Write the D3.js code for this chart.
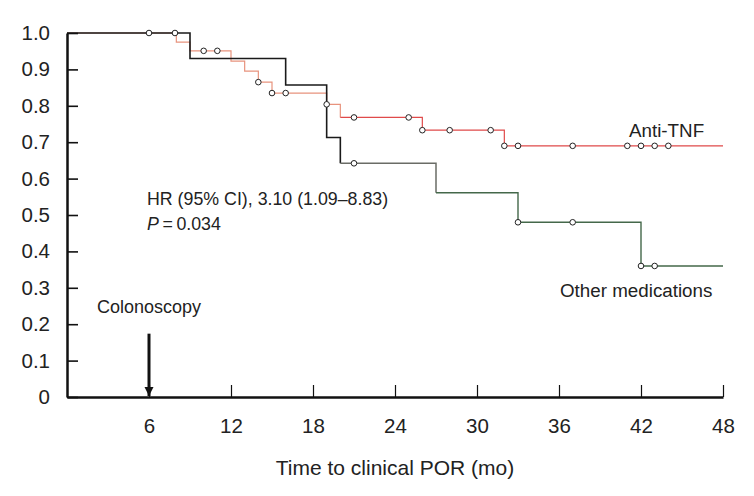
<!DOCTYPE html>
<html lang="en">
<head>
    <meta charset="UTF-8">
    <title>Time to clinical POR</title>
    <script src="https://cdn.jsdelivr.net/npm/d3@7"></script>
    <style>
        body { margin: 0; background: #fff; }
        svg text { font-family: 'Liberation Sans', Arial, sans-serif; fill: #222; }
    </style>
</head>
<body>
<script>
    // Kaplan-Meier steps (time in months, survival)
    const antiTime = [0, 8, 9, 12, 13, 14, 15, 19, 20, 26, 32, 48];
    const antiSurv = [1.0, 0.975, 0.951, 0.923, 0.895, 0.865, 0.835, 0.804, 0.768, 0.733, 0.690, 0.690];
    const antiCensorTime = [6, 7.9, 10, 11, 14, 15, 16, 19, 21, 25, 26, 28, 31, 32, 33, 37, 41, 42, 43, 44];
    const antiCensorSurv = [1.0, 1.0, 0.951, 0.951, 0.865, 0.835, 0.835, 0.804, 0.768, 0.768, 0.733, 0.733, 0.733,
                            0.690, 0.690, 0.690, 0.690, 0.690, 0.690, 0.690];

    const otherTime = [0, 9, 16, 19, 20, 27, 33, 42, 48];
    const otherSurv = [1.0, 0.930, 0.857, 0.713, 0.642, 0.561, 0.480, 0.360, 0.360];
    const otherCensorTime = [21, 33, 37, 42, 43];
    const otherCensorSurv = [0.642, 0.480, 0.480, 0.360, 0.360];

    const xTicks = [6, 12, 18, 24, 30, 36, 42, 48];
    const yTicks = [0, 0.1, 0.2, 0.3, 0.4, 0.5, 0.6, 0.7, 0.8, 0.9, 1.0];

    const W = 754, H = 496;
    const x = d3.scaleLinear().domain([0, 48]).range([67, 723]);
    const y = d3.scaleLinear().domain([0, 1]).range([397, 33]);

    const svg = d3.select("body").append("svg").attr("width", W).attr("height", H);

    const zip = (t, s) => t.map((d, i) => ({t: d, s: s[i]}));
    const anti = zip(antiTime, antiSurv);
    const other = zip(otherTime, otherSurv);

    const line = d3.line().x(d => x(d.t)).y(d => y(d.s)).curve(d3.curveStepAfter);
    const part = (data, a, b) => data.filter(d => d.t >= a && d.t <= b);

    // anti-TNF curve (lighter first part, stronger red later)
    svg.append("path").datum(part(anti, 0, 20))
        .attr("d", line).attr("fill", "none").attr("stroke", "#e8937d").attr("stroke-width", 1.2);
    svg.append("path").datum(part(anti, 20, 48))
        .attr("d", line).attr("fill", "none").attr("stroke", "#e04a4a").attr("stroke-width", 1.2);

    // other medications curve
    svg.append("path").datum(part(other, 0, 20))
        .attr("d", line).attr("fill", "none").attr("stroke", "#1a1a1a").attr("stroke-width", 1.6);
    svg.append("path").datum(part(other, 20, 27))
        .attr("d", line).attr("fill", "none").attr("stroke", "#6a6c66").attr("stroke-width", 1.5);
    svg.append("path").datum(part(other, 27, 48))
        .attr("d", line).attr("fill", "none").attr("stroke", "#44684a").attr("stroke-width", 1.4);

    // censor marks
    const censors = zip(antiCensorTime, antiCensorSurv).concat(zip(otherCensorTime, otherCensorSurv));
    svg.append("g").selectAll("circle")
        .data(censors)
        .join("circle")
        .attr("cx", d => x(d.t))
        .attr("cy", d => y(d.s))
        .attr("r", 2.8)
        .attr("fill", "#fff")
        .attr("stroke", "#222")
        .attr("stroke-width", 1);

    // axes
    const yAxis = svg.append("g").attr("transform", `translate(${x(0)},0)`)
        .call(d3.axisLeft(y).tickValues(yTicks).tickSizeInner(-11).tickSizeOuter(0).tickPadding(17)
            .tickFormat(d => d === 0 ? "0" : d3.format(".1f")(d)));
    yAxis.select(".domain").attr("stroke", "#111").attr("stroke-width", 2.5);
    yAxis.selectAll(".tick line").attr("stroke", "#111").attr("stroke-width", 1.6);
    yAxis.selectAll(".tick text").style("font-size", "20.5px").attr("fill", "#222");

    const xAxis = svg.append("g").attr("transform", `translate(0,${y(0)})`)
        .call(d3.axisBottom(x).tickValues(xTicks).tickSizeInner(-12).tickSizeOuter(0).tickPadding(21));
    xAxis.select(".domain").attr("stroke", "#111").attr("stroke-width", 2.5);
    xAxis.selectAll(".tick line").attr("stroke", "#111").attr("stroke-width", 1.2);
    xAxis.selectAll(".tick text").style("font-size", "20.5px").attr("fill", "#222");

    svg.selectAll(".tick text").style("font-family", "'Liberation Sans', Arial, sans-serif");

    svg.append("text")
        .attr("x", (x(0) + x(48)) / 2 + 0).attr("y", 475)
        .attr("text-anchor", "middle")
        .style("font-size", "21px")
        .text("Time to clinical POR (mo)");

    // colonoscopy arrow
    svg.append("defs").append("marker")
        .attr("id", "head").attr("viewBox", "0 0 10 10")
        .attr("refX", 10).attr("refY", 5)
        .attr("markerWidth", 3).attr("markerHeight", 3.2)
        .attr("markerUnits", "strokeWidth")
        .attr("orient", "auto")
        .append("path").attr("d", "M0,0L10,5L0,10Z").attr("fill", "#111");
    svg.append("line")
        .attr("x1", x(6)).attr("x2", x(6))
        .attr("y1", y(0.174)).attr("y2", y(0) - 1)
        .attr("stroke", "#111").attr("stroke-width", 3)
        .attr("marker-end", "url(#head)");
    svg.append("text").attr("x", 97).attr("y", 313)
        .style("font-size", "18px").text("Colonoscopy");

    // labels
    svg.append("text").attr("x", 629).attr("y", 137)
        .style("font-size", "18.8px").text("Anti-TNF");
    svg.append("text").attr("x", 560).attr("y", 297)
        .style("font-size", "18.8px").text("Other medications");

    svg.append("text").attr("x", 147).attr("y", 205)
        .style("font-size", "17.8px").text("HR (95% CI), 3.10 (1.09\u20138.83)");
    const p = svg.append("text").attr("x", 147).attr("y", 230).style("font-size", "17.8px");
    p.append("tspan").style("font-style", "italic").text("P");
    p.append("tspan").text("\u2009=\u20090.034");
</script>
</body>
</html>
